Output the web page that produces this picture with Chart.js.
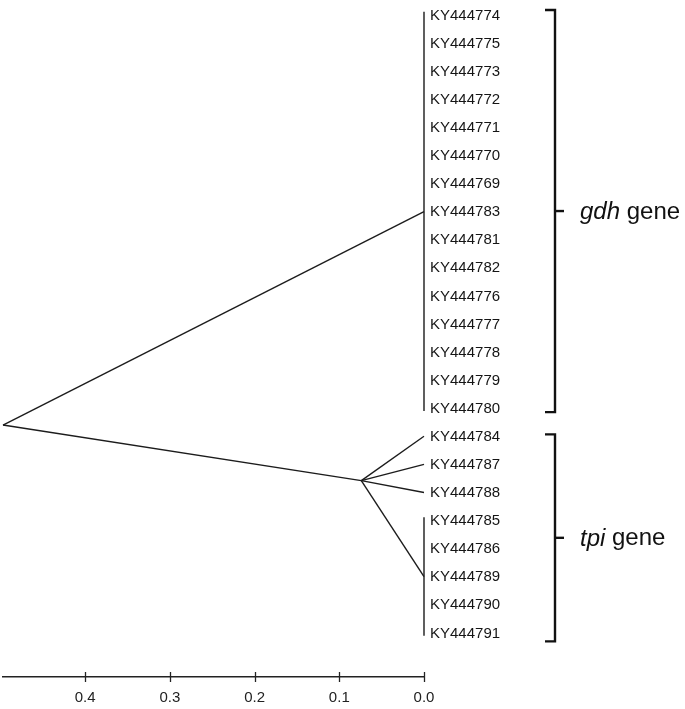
<!DOCTYPE html>
<html>
<head>
<meta charset="utf-8">
<script src="https://cdn.jsdelivr.net/npm/chart.js@4"></script>
<style>
  html, body { margin: 0; padding: 0; background: #fff; }
  canvas { display: block; }
</style>
</head>
<body>
<canvas id="c" width="685" height="709"></canvas>
<script>
// ---- data ----
const leaves = ['KY444774','KY444775','KY444773','KY444772','KY444771','KY444770','KY444769','KY444783',
  'KY444781','KY444782','KY444776','KY444777','KY444778','KY444779','KY444780',
  'KY444784','KY444787','KY444788','KY444785','KY444786','KY444789','KY444790','KY444791'];
// internal nodes: distance (x) and row position (y, in leaf rows)
const nodeNames = ['root', 'gdh', 'tpi', 'tpiSub'];
const nodeDist  = [0.497, 0.0, 0.074, 0.0];
const nodeRow   = [14.6, 7, 16.58, 20];
// edges: from node -> to node (or leaf)
const edgeFrom = ['root', 'root', 'tpi', 'tpi', 'tpi', 'tpi'];
const edgeTo   = ['gdh', 'tpi', 'KY444784', 'KY444787', 'KY444788', 'tpiSub'];
// clades with zero-length vertical bars (first and last leaf row)
const cladeFirst = [0, 18];
const cladeLast  = [14, 22];
// gene groups (bracket spans in leaf rows)
const groupName  = ['gdh', 'tpi'];
const groupTop   = [-0.18, 14.93];
const groupBot   = [14.14, 22.3];
const xTicks = [0.4, 0.3, 0.2, 0.1, 0.0];

function pos(name) {
  const i = nodeNames.indexOf(name);
  if (i >= 0) return { x: nodeDist[i], y: nodeRow[i] };
  return { x: 0, y: leaves.indexOf(name) };
}

const lineStyle = { showLine: true, pointRadius: 0, borderColor: '#1c1c1c', borderWidth: 1.4, fill: false };
const datasets = [];
edgeFrom.forEach((f, i) => {
  datasets.push(Object.assign({ data: [pos(f), pos(edgeTo[i])] }, lineStyle));
});
cladeFirst.forEach((a, i) => {
  datasets.push(Object.assign({ data: [{ x: 0, y: a - 0.12 }, { x: 0, y: cladeLast[i] + 0.1 }] }, lineStyle));
});

const FONT = "'Liberation Sans', Arial, sans-serif";

const treePlugin = {
  id: 'treeDecor',
  afterDraw(chart) {
    const ctx = chart.ctx;
    const xs = chart.scales.x, ys = chart.scales.y;
    ctx.save();
    // leaf labels
    ctx.fillStyle = '#151515';
    ctx.font = '15px ' + FONT;
    ctx.textBaseline = 'middle';
    ctx.textAlign = 'left';
    const x0 = xs.getPixelForValue(0);
    leaves.forEach((l, i) => {
      ctx.fillText(l, x0 + 6, ys.getPixelForValue(i) + 0.5);
    });
    // axis tick marks crossing the axis line
    ctx.strokeStyle = '#222';
    ctx.lineWidth = 1.3;
    const yb = chart.chartArea.bottom;
    xTicks.forEach(t => {
      const px = Math.round(xs.getPixelForValue(t)) + 0.5;
      ctx.beginPath();
      ctx.moveTo(px, yb - 5);
      ctx.lineTo(px, yb + 5);
      ctx.stroke();
    });
    // brackets
    const bx = x0 + 131;
    ctx.strokeStyle = '#111';
    ctx.lineWidth = 2.4;
    groupName.forEach((g, i) => {
      const yt = ys.getPixelForValue(groupTop[i]);
      const ybt = ys.getPixelForValue(groupBot[i]);
      const ym = (yt + ybt) / 2;
      ctx.beginPath();
      ctx.moveTo(bx - 10, yt);
      ctx.lineTo(bx, yt);
      ctx.lineTo(bx, ybt);
      ctx.lineTo(bx - 10, ybt);
      ctx.stroke();
      ctx.beginPath();
      ctx.moveTo(bx, ym);
      ctx.lineTo(bx + 9, ym);
      ctx.stroke();
      // label
      ctx.fillStyle = '#111';
      ctx.textBaseline = 'middle';
      let tx = bx + 25;
      ctx.font = 'italic 24px ' + FONT;
      ctx.fillText(g, tx, ym + 1);
      tx += ctx.measureText(g).width;
      ctx.font = '24px ' + FONT;
      ctx.fillText(' gene', tx, ym + 1);
    });
    ctx.restore();
  }
};

new Chart(document.getElementById('c'), {
  type: 'scatter',
  data: { datasets },
  options: {
    responsive: false,
    animation: false,
    clip: false,
    events: [],
    layout: { padding: { left: 3, right: 261, top: 15, bottom: 0 } },
    plugins: { legend: { display: false }, tooltip: { enabled: false } },
    scales: {
      x: {
        type: 'linear',
        reverse: true,
        min: 0,
        max: 0.497,
        afterFit(s) { s.height = 32; },
        afterBuildTicks(s) { s.ticks = xTicks.map(v => ({ value: v })); },
        ticks: {
          includeBounds: false,
          autoSkip: false,
          maxRotation: 0,
          padding: 12,
          color: '#222',
          font: { size: 15, family: FONT },
          callback: v => Number(v).toFixed(1)
        },
        grid: { display: false, drawTicks: false },
        border: { display: true, color: '#222', width: 1.5 }
      },
      y: {
        type: 'linear',
        display: false,
        reverse: true,
        min: 0,
        max: 23.57
      }
    }
  },
  plugins: [treePlugin]
});
</script>
</body>
</html>
